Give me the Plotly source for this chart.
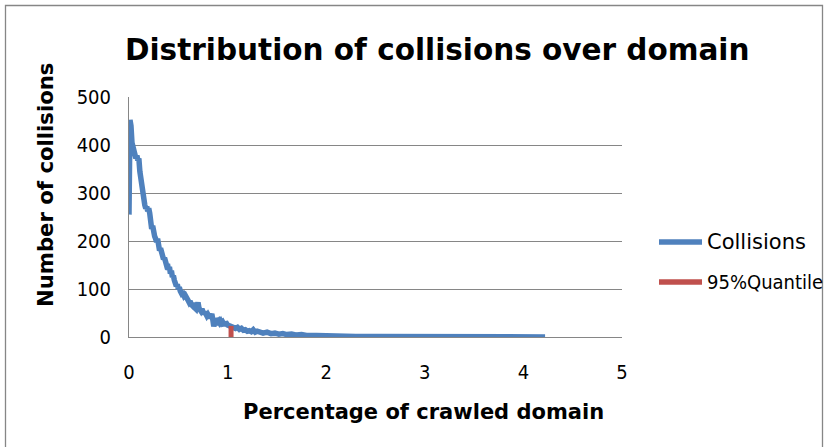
import plotly.graph_objects as go

# ---- data ----
coll_x = [0.00, 0.01, 0.02, 0.03, 0.04, 0.05, 0.06, 0.07, 0.08, 0.09,
          0.10, 0.11, 0.12, 0.13, 0.14, 0.15, 0.16, 0.17, 0.18, 0.19,
          0.20, 0.21, 0.22, 0.23, 0.24, 0.25, 0.26, 0.27, 0.28, 0.29,
          0.30, 0.31, 0.32, 0.33, 0.34, 0.35, 0.36, 0.37, 0.38, 0.39,
          0.40, 0.41, 0.42, 0.43, 0.44, 0.45, 0.46, 0.47, 0.48, 0.49,
          0.50, 0.51, 0.52, 0.53, 0.54, 0.55, 0.56, 0.57, 0.58, 0.59,
          0.60, 0.61, 0.62, 0.63, 0.64, 0.65, 0.66, 0.67, 0.68, 0.69,
          0.70, 0.71, 0.72, 0.73, 0.74, 0.75, 0.76, 0.77, 0.78, 0.79,
          0.80, 0.81, 0.82, 0.83, 0.84, 0.85, 0.86, 0.87, 0.88, 0.89,
          0.90, 0.91, 0.92, 0.93, 0.94, 0.95, 0.96, 0.97, 0.98, 0.99,
          1.00, 1.02, 1.04, 1.06, 1.08, 1.10, 1.12, 1.14, 1.16, 1.18,
          1.20, 1.22, 1.24, 1.26, 1.28, 1.30, 1.33, 1.36, 1.40, 1.44,
          1.48, 1.52, 1.56, 1.60, 1.65, 1.70, 1.75, 1.80, 1.90, 2.00,
          2.10, 2.20, 2.30, 2.50, 2.70, 2.90, 3.00, 3.10, 3.30, 3.50,
          3.70, 3.90, 4.10, 4.22]
coll_y = [255, 452, 440, 405, 395, 385, 380, 372, 378, 368,
          372, 345, 330, 305, 290, 282, 275, 268, 272, 262,
          268, 258, 240, 225, 232, 215, 210, 205, 198, 205,
          190, 180, 185, 172, 168, 162, 165, 155, 150, 152,
          140, 146, 132, 138, 125, 128, 118, 112, 106, 110,
          100, 104, 96, 92, 95, 88, 85, 87, 80, 78,
          76, 72, 75, 68, 66, 70, 62, 60, 58, 66,
          72, 60, 56, 54, 58, 50, 48, 52, 46, 44,
          47, 42, 40, 44, 48, 36, 22, 30, 38, 35,
          32, 34, 30, 33, 29, 31, 27, 28, 26, 28,
          25, 23, 21, 22, 18, 20, 16, 18, 14, 15,
          12, 13, 11, 15, 10, 12, 9, 8, 10, 7,
          8, 6, 7, 5, 6, 4, 5, 3, 3, 2,
          2, 1.5, 1, 1, 0.8, 0.6, 1, 0.5, 0.4, 0.3,
          0.3, 0.2, 0.2, 0.2]

quant_x = [1.035, 1.035]
quant_y = [0, 23]

series_names = ["Collisions", "95%Quantile"]
series_colors = ["#4F81BD", "#C0504D"]

x_ticks = [0, 1, 2, 3, 4, 5]
y_ticks = [0, 100, 200, 300, 400, 500]

title_text = "Distribution of collisions over domain"
x_title = "Percentage of crawled domain"
y_title = "Number of collisions"

FONT = "DejaVu Sans"
CFONT = "DejaVu Sans Condensed, DejaVu Sans"
GRID = "#868686"

# plot area geometry (pixels)
W, H = 824, 447
L, R, T, B = 129, 622, 97, 337
pw, ph = R - L, B - T


def px(x):
    return (x - L) / pw


def py(y):
    return (B - y) / ph


fig = go.Figure()
fig.add_trace(go.Scatter(x=coll_x, y=coll_y, mode="lines", name=series_names[0],
                         line=dict(color=series_colors[0], width=5.5), showlegend=False))
fig.add_trace(go.Scatter(x=quant_x, y=quant_y, mode="lines", name=series_names[1],
                         line=dict(color=series_colors[1], width=5), showlegend=False))

shapes = [dict(type="rect", xref="paper", yref="paper",
               x0=px(5.5), x1=px(822.5), y0=py(470), y1=py(5.5),
               line=dict(color=GRID, width=1.3), fillcolor="rgba(0,0,0,0)",
               layer="below")]
annotations = [
    dict(text="<b>%s</b>" % title_text, x=px(437), y=py(50), xref="paper", yref="paper",
         xanchor="center", yanchor="middle", showarrow=False,
         font=dict(family=FONT, size=29.5, color="black")),
    dict(text="<b>%s</b>" % x_title, x=px(423), y=py(412), xref="paper", yref="paper",
         xanchor="center", yanchor="middle", showarrow=False,
         font=dict(family=FONT, size=21, color="black")),
    dict(text="<b>%s</b>" % y_title, x=px(45), y=py(185), xref="paper", yref="paper",
         xanchor="center", yanchor="middle", showarrow=False, textangle=-90,
         font=dict(family=FONT, size=21.2, color="black")),
]

# legend drawn by hand (Excel style: long line sample + text)
leg_rows = [242, 282]
leg_fonts = [dict(family=FONT, size=21, color="black"),
             dict(family=CFONT, size=20, color="black")]
for name, color, yy, fnt in zip(series_names, series_colors, leg_rows, leg_fonts):
    shapes.append(dict(type="line", xref="paper", yref="paper",
                       x0=px(659), x1=px(702), y0=py(yy), y1=py(yy),
                       line=dict(color=color, width=5.5)))
    annotations.append(dict(text=name, x=px(705), y=py(yy), xref="paper", yref="paper",
                            xanchor="left", yanchor="middle", showarrow=False,
                            font=fnt))

fig.update_layout(
    width=W, height=H,
    margin=dict(l=L, r=W - R, t=T, b=H - B, pad=0, autoexpand=False),
    paper_bgcolor="white", plot_bgcolor="white",
    font=dict(family=FONT, color="black", size=18),
    showlegend=False,
    xaxis=dict(range=[0, 5], tickvals=x_ticks, ticktext=[str(v) for v in x_ticks],
               showgrid=False, zeroline=False, showline=True, linecolor=GRID,
               linewidth=1, ticks="", ticklabelstandoff=17,
               tickfont=dict(family=CFONT, size=20, color="black")),
    yaxis=dict(range=[0, 500], tickvals=y_ticks, ticktext=[str(v) for v in y_ticks],
               showgrid=True, gridcolor=GRID, gridwidth=1, zeroline=False,
               showline=True, linecolor=GRID, linewidth=1, ticks="",
               ticklabelstandoff=13,
               tickfont=dict(family=CFONT, size=20, color="black")),
    shapes=shapes,
    annotations=annotations,
)

fig.write_html("out.html", config={"displayModeBar": False},
               post_script="document.documentElement.style.margin='0';"
                           "document.body.style.margin='0';"
                           "document.body.style.overflow='hidden';")
